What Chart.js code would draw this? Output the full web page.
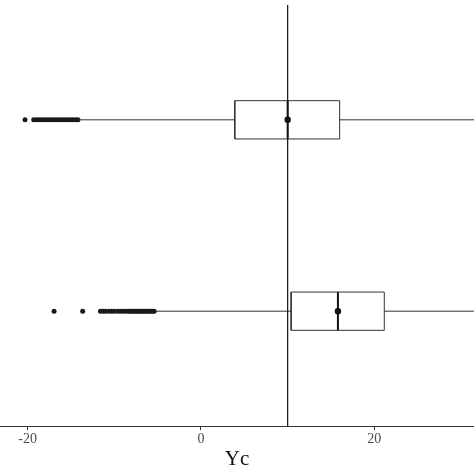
<!DOCTYPE html>
<html>
<head>
<meta charset="utf-8">
<script src="https://cdn.jsdelivr.net/npm/chart.js@4"></script>
<style>
  html, body { margin: 0; padding: 0; background: #fff; }
  #wrap { width: 474px; height: 474px; }
</style>
</head>
<body>
<div id="wrap"><canvas id="chart" width="474" height="474"></canvas></div>
<script>
// 두 그룹 박스플롯 (위 / 아래)
const groupPos = [2, 1];
const q1 = [3.9, 10.4];
const medians = [10, 15.8];
const q3 = [16.0, 21.15];
const means = [10, 15.8];
const whiskerLow = [-14.1, -5.3];
const whiskerHigh = [36, 38];
const outliersTop = [-20.3, -19.3, -19.0, -18.7, -18.4, -18.1, -17.8, -17.5, -17.2, -16.9,
  -16.6, -16.3, -16.0, -15.7, -15.4, -15.1, -14.8, -14.5, -14.2];
const outliersBottom = [-16.95, -13.65, -11.6, -11.3, -11.0, -10.6, -10.3, -10.0, -9.6, -9.3,
  -9.0, -8.7, -8.4, -8.2, -8.0, -7.8, -7.6, -7.4, -7.2, -7.0, -6.8, -6.6, -6.4, -6.2, -6.0,
  -5.8, -5.6, -5.4];
const refLine = 10;
const xTicks = [-20, 0, 20];
const xTitle = 'Yc';

const half = 0.1; // 박스 반높이
const lineCol = '#333333';
const datasets = [];

// 기준선
datasets.push({
  data: [{ x: refLine, y: 0.4 }, { x: refLine, y: 2.6 }],
  showLine: true, borderColor: '#111', borderWidth: 1.2, pointRadius: 0
});

groupPos.forEach((p, i) => {
  // 수염
  datasets.push({
    data: [{ x: whiskerLow[i], y: p }, { x: q1[i], y: p }],
    showLine: true, borderColor: lineCol, borderWidth: 1, pointRadius: 0
  });
  datasets.push({
    data: [{ x: q3[i], y: p }, { x: whiskerHigh[i], y: p }],
    showLine: true, borderColor: lineCol, borderWidth: 1, pointRadius: 0
  });
  // 박스
  datasets.push({
    data: [
      { x: q1[i], y: p - half }, { x: q3[i], y: p - half },
      { x: q3[i], y: p + half }, { x: q1[i], y: p + half },
      { x: q1[i], y: p - half }
    ],
    showLine: true, borderColor: lineCol, borderWidth: 1, pointRadius: 0,
    backgroundColor: '#fff', fill: false
  });
  // 중앙값
  datasets.push({
    data: [{ x: medians[i], y: p - half }, { x: medians[i], y: p + half }],
    showLine: true, borderColor: '#111', borderWidth: 2, pointRadius: 0
  });
  // 평균
  datasets.push({
    data: [{ x: means[i], y: p }],
    pointRadius: 3.2, backgroundColor: '#111', borderWidth: 0
  });
});

// 이상치
[outliersTop, outliersBottom].forEach((vals, i) => {
  datasets.push({
    data: vals.map(v => ({ x: v, y: groupPos[i] })),
    pointRadius: 2.5, backgroundColor: '#1a1a1a', borderWidth: 0
  });
});

new Chart(document.getElementById('chart').getContext('2d'), {
  type: 'scatter',
  data: { datasets },
  options: {
    responsive: false,
    animation: false,
    layout: { autoPadding: false, padding: { top: 5, left: 0, right: 0, bottom: 2 } },
    plugins: { legend: { display: false }, tooltip: { enabled: false } },
    scales: {
      x: {
        type: 'linear',
        min: -23.19,
        max: 31.5,
        afterBuildTicks: axis => { axis.ticks = xTicks.map(v => ({ value: v })); },
        ticks: {
          color: '#4d4d4d',
          font: { family: 'Liberation Serif', size: 14 },
          padding: 1
        },
        grid: { drawOnChartArea: false, drawTicks: true, tickLength: 4, color: lineCol },
        border: { display: true, color: lineCol, width: 1 },
        title: {
          display: true,
          text: xTitle,
          color: '#111',
          font: { family: 'Liberation Serif', size: 21 },
          padding: { top: -2, bottom: 0 }
        }
      },
      y: {
        type: 'linear',
        min: 0.4,
        max: 2.6,
        display: false
      }
    }
  }
});
</script>
</body>
</html>
